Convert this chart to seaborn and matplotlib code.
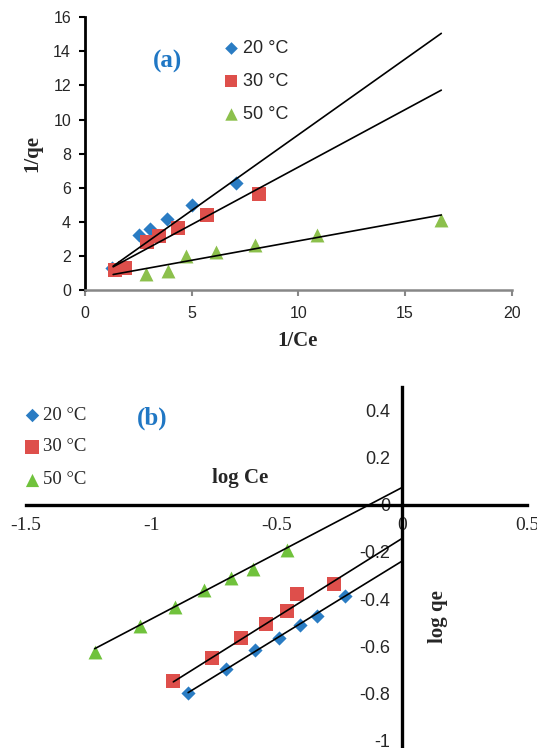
import numpy as np
import pandas as pd
import matplotlib
matplotlib.use("Agg")
import matplotlib.pyplot as plt
import seaborn as sns

sns.set_style("white")
plt.rcParams["font.family"] = ["Liberation Sans", "DejaVu Sans"]
plt.rcParams["axes.unicode_minus"] = False

SANS = ["Liberation Sans", "DejaVu Sans"]
SERIF = ["Liberation Serif", "DejaVu Serif"]

# ---------------- data ----------------
series = ["20 °C", "30 °C", "50 °C"]

# panel (a): Langmuir 1/qe vs 1/Ce
a_x20 = [1.25, 2.55, 3.05, 3.85, 5.0, 7.1]
a_y20 = [1.30, 3.20, 3.60, 4.15, 5.0, 6.25]
a_x30 = [1.40, 1.88, 2.89, 3.48, 4.37, 5.70, 8.14]
a_y30 = [1.20, 1.30, 2.83, 3.17, 3.66, 4.39, 5.63]
a_x50 = [2.84, 3.89, 4.74, 6.13, 7.98, 10.87, 16.70]
a_y50 = [0.91, 1.14, 1.99, 2.24, 2.64, 3.21, 4.11]
a_slope = [0.888, 0.674, 0.227]
a_icept = [0.228, 0.470, 0.610]
a_line_x = [1.32, 16.7]

# panel (b): Freundlich log qe vs log Ce
b_x20 = [-0.852, -0.699, -0.584, -0.490, -0.407, -0.336, -0.227]
b_y20 = [-0.800, -0.698, -0.616, -0.563, -0.511, -0.470, -0.388]
b_x30 = [-0.911, -0.756, -0.640, -0.542, -0.458, -0.416, -0.271]
b_y30 = [-0.748, -0.648, -0.564, -0.505, -0.450, -0.379, -0.336]
b_x50 = [-1.225, -1.042, -0.904, -0.789, -0.681, -0.595, -0.458]
b_y50 = [-0.624, -0.513, -0.433, -0.362, -0.310, -0.272, -0.190]
b_slope = [0.653, 0.666, 0.557]
b_icept = [-0.240, -0.144, 0.072]
b_line_x0 = [-0.852, -0.911, -1.225]

a_xticks = [0, 5, 10, 15, 20]
a_yticks = [0, 2, 4, 6, 8, 10, 12, 14, 16]
b_xticks = [-1.5, -1, -0.5, 0, 0.5]
b_xticklabels = ["-1.5", "-1", "-0.5", "0", "0.5"]
b_yticks = [-1, -0.8, -0.6, -0.4, -0.2, 0, 0.2, 0.4]
b_yticklabels = ["-1", "-0.8", "-0.6", "-0.4", "-0.2", "0", "0.2", "0.4"]

# ---------------- style ----------------
blue = "#2a7cc3"
red = "#de4f4b"
green_a = "#8cc04c"
green_b = "#70c23c"
label_blue = "#2077c4"
markers = {"20 °C": "D", "30 °C": "s", "50 °C": "^"}
msize = {"20 °C": 52, "30 °C": 100, "50 °C": 100}

W, H = 537, 748
fig = plt.figure(figsize=(W / 100, H / 100), dpi=100)


def fx(px):
    return px / W


def fy(py):
    return 1 - py / H


def make_df(xs, ys):
    rows = []
    for name, x, y in zip(series, xs, ys):
        for xi, yi in zip(x, y):
            rows.append({"x": xi, "y": yi, "T": name})
    return pd.DataFrame(rows)


# ---------------- panel (a) ----------------
axa = fig.add_axes([fx(85), fy(290), (511.7 - 85) / W, (290 - 17.3) / H])
dfa = make_df([a_x20, a_x30, a_x50], [a_y20, a_y30, a_y50])
pal_a = {"20 °C": blue, "30 °C": red, "50 °C": green_a}
for name in series:
    sub = dfa[dfa["T"] == name]
    sns.scatterplot(data=sub, x="x", y="y", ax=axa, color=pal_a[name],
                    marker=markers[name], s=msize[name], linewidth=0,
                    legend=False, zorder=2)
lx = np.array(a_line_x)
for m, b in zip(a_slope, a_icept):
    axa.plot(lx, m * lx + b, color="black", lw=1.2, zorder=3)

axa.set_xlim(0, 20)
axa.set_ylim(0, 16)
axa.set_xticks(a_xticks)
axa.set_yticks(a_yticks)
axa.set_xlabel("")
axa.set_ylabel("")
for s in ["top", "right"]:
    axa.spines[s].set_visible(False)
axa.spines["left"].set_color("black")
axa.spines["left"].set_linewidth(2.0)
axa.spines["bottom"].set_color("#878787")
axa.spines["bottom"].set_linewidth(1.8)
axa.tick_params(axis="y", direction="out", length=4, width=1.5, color="black",
                pad=6, labelsize=11.5, left=True)
axa.tick_params(axis="x", direction="out", length=4, width=1.5, color="#878787",
                pad=7.5, labelsize=11.5, bottom=True)
for t in axa.get_xticklabels() + axa.get_yticklabels():
    t.set_family(SANS)

fig.text(fx(298), fy(341), "1/Ce", family=SERIF, fontweight="bold",
         fontsize=15, ha="center", va="center")
fig.text(fx(32), fy(153.6), "1/qe", family=SERIF, fontweight="bold",
         fontsize=15, ha="center", va="center", rotation=90)
fig.text(fx(168), fy(61.7), "(a)", family=SERIF, fontweight="bold",
         fontsize=18, color=label_blue, ha="center", va="center")

leg_a_y = [48.3, 81, 114.3]
for name, py in zip(series, leg_a_y):
    axa.scatter([fx(230.5)], [fy(py)], transform=fig.transFigure,
                marker=markers[name], s=msize[name] * 0.8, color=pal_a[name],
                linewidths=0, clip_on=False)
    fig.text(fx(243), fy(py), name, family=SANS, fontsize=13,
             ha="left", va="center")

# ---------------- panel (b) ----------------
axb = fig.add_axes([fx(25.7), 0, (527 - 25.7) / W, (748 - 386.7) / H])
dfb = make_df([b_x20, b_x30, b_x50], [b_y20, b_y30, b_y50])
pal_b = {"20 °C": blue, "30 °C": red, "50 °C": green_b}
for name in series:
    sub = dfb[dfb["T"] == name]
    sns.scatterplot(data=sub, x="x", y="y", ax=axb, color=pal_b[name],
                    marker=markers[name], s=msize[name], linewidth=0,
                    legend=False, zorder=2)
for m, b, x0 in zip(b_slope, b_icept, b_line_x0):
    xx = np.array([x0, 0.0])
    axb.plot(xx, m * xx + b, color="black", lw=1.2, zorder=3)

axb.set_xlim(-1.5, 0.5)
axb.set_ylim(-1.031, 0.5)
axb.set_xlabel("")
axb.set_ylabel("")
for s in ["top", "right"]:
    axb.spines[s].set_visible(False)
axb.spines["left"].set_position(("data", 0))
axb.spines["bottom"].set_position(("data", 0))
for s in ["left", "bottom"]:
    axb.spines[s].set_color("black")
    axb.spines[s].set_linewidth(2.4)
    axb.spines[s].set_zorder(1)
axb.set_xticks(b_xticks)
axb.set_xticklabels(b_xticklabels, family=SERIF, fontsize=14)
axb.set_yticks(b_yticks)
axb.set_yticklabels(b_yticklabels, family=SANS, fontsize=13)
axb.tick_params(axis="x", length=0, pad=9)
axb.tick_params(axis="y", length=0, pad=8)

fig.text(fx(239.7), fy(478.3), "log Ce", family=SERIF, fontweight="bold",
         fontsize=15, ha="center", va="center")
fig.text(fx(438.4), fy(616.7), "log qe", family=SERIF, fontweight="bold",
         fontsize=15, ha="center", va="center", rotation=90)
fig.text(fx(151.7), fy(418.3), "(b)", family=SERIF, fontweight="bold",
         fontsize=18, color=label_blue, ha="center", va="center")

leg_b_y = [415, 447, 480]
for name, py in zip(series, leg_b_y):
    axb.scatter([fx(31.5)], [fy(py)], transform=fig.transFigure,
                marker=markers[name], s=msize[name] * 0.9, color=pal_b[name],
                linewidths=0, clip_on=False)
    fig.text(fx(43.3), fy(py), name, family=SERIF, fontsize=13.5,
             ha="left", va="center")

fig.savefig("out.png", dpi=100)
